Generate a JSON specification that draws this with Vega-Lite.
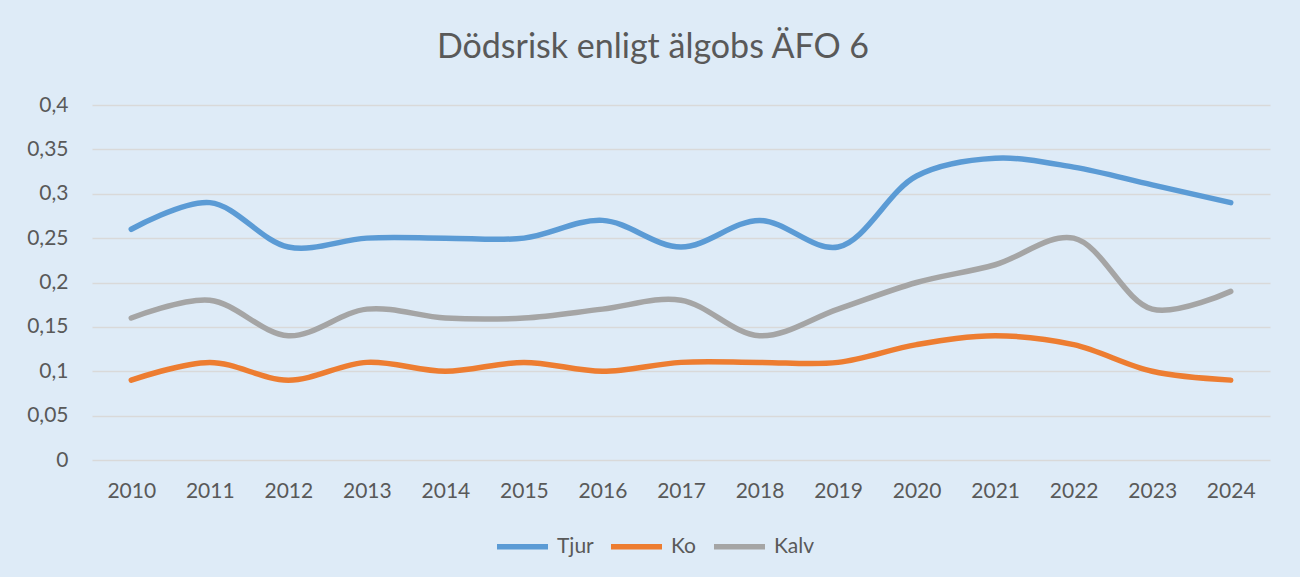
{
  "$schema": "https://vega.github.io/schema/vega-lite/v6.json",
  "width": 1178,
  "height": 355,
  "autosize": {"type": "none"},
  "padding": {"left": 92, "top": 105, "right": 30, "bottom": 117},
  "background": "#DEEBF7",
  "title": {
    "text": "Dödsrisk enligt älgobs ÄFO 6",
    "font": "Lato",
    "fontSize": 34,
    "fontWeight": "normal",
    "color": "#595959",
    "anchor": "middle",
    "dx": -28,
    "offset": 29
  },
  "data": {
    "values": [
      {"year": "2010", "serie": "Tjur", "v": 0.26},
      {"year": "2011", "serie": "Tjur", "v": 0.29},
      {"year": "2012", "serie": "Tjur", "v": 0.24},
      {"year": "2013", "serie": "Tjur", "v": 0.25},
      {"year": "2014", "serie": "Tjur", "v": 0.25},
      {"year": "2015", "serie": "Tjur", "v": 0.25},
      {"year": "2016", "serie": "Tjur", "v": 0.27},
      {"year": "2017", "serie": "Tjur", "v": 0.24},
      {"year": "2018", "serie": "Tjur", "v": 0.27},
      {"year": "2019", "serie": "Tjur", "v": 0.24},
      {"year": "2020", "serie": "Tjur", "v": 0.32},
      {"year": "2021", "serie": "Tjur", "v": 0.34},
      {"year": "2022", "serie": "Tjur", "v": 0.33},
      {"year": "2023", "serie": "Tjur", "v": 0.31},
      {"year": "2024", "serie": "Tjur", "v": 0.29},
      {"year": "2010", "serie": "Ko", "v": 0.09},
      {"year": "2011", "serie": "Ko", "v": 0.11},
      {"year": "2012", "serie": "Ko", "v": 0.09},
      {"year": "2013", "serie": "Ko", "v": 0.11},
      {"year": "2014", "serie": "Ko", "v": 0.10},
      {"year": "2015", "serie": "Ko", "v": 0.11},
      {"year": "2016", "serie": "Ko", "v": 0.10},
      {"year": "2017", "serie": "Ko", "v": 0.11},
      {"year": "2018", "serie": "Ko", "v": 0.11},
      {"year": "2019", "serie": "Ko", "v": 0.11},
      {"year": "2020", "serie": "Ko", "v": 0.13},
      {"year": "2021", "serie": "Ko", "v": 0.14},
      {"year": "2022", "serie": "Ko", "v": 0.13},
      {"year": "2023", "serie": "Ko", "v": 0.10},
      {"year": "2024", "serie": "Ko", "v": 0.09},
      {"year": "2010", "serie": "Kalv", "v": 0.16},
      {"year": "2011", "serie": "Kalv", "v": 0.18},
      {"year": "2012", "serie": "Kalv", "v": 0.14},
      {"year": "2013", "serie": "Kalv", "v": 0.17},
      {"year": "2014", "serie": "Kalv", "v": 0.16},
      {"year": "2015", "serie": "Kalv", "v": 0.16},
      {"year": "2016", "serie": "Kalv", "v": 0.17},
      {"year": "2017", "serie": "Kalv", "v": 0.18},
      {"year": "2018", "serie": "Kalv", "v": 0.14},
      {"year": "2019", "serie": "Kalv", "v": 0.17},
      {"year": "2020", "serie": "Kalv", "v": 0.20},
      {"year": "2021", "serie": "Kalv", "v": 0.22},
      {"year": "2022", "serie": "Kalv", "v": 0.25},
      {"year": "2023", "serie": "Kalv", "v": 0.17},
      {"year": "2024", "serie": "Kalv", "v": 0.19}
    ]
  },
  "mark": {"type": "line", "interpolate": "catmull-rom", "strokeWidth": 5.5, "strokeCap": "round", "strokeJoin": "round"},
  "encoding": {
    "x": {
      "field": "year",
      "type": "ordinal",
      "scale": {"type": "point", "padding": 0.5},
      "axis": {
        "title": null,
        "labelAngle": 0,
        "domain": false,
        "ticks": false,
        "grid": false,
        "labelFont": "Lato",
        "labelFontSize": 21,
        "labelColor": "#595959",
        "labelPadding": 20
      }
    },
    "y": {
      "field": "v",
      "type": "quantitative",
      "scale": {"domain": [0, 0.4], "nice": false},
      "axis": {
        "title": null,
        "values": [0, 0.05, 0.1, 0.15, 0.2, 0.25, 0.3, 0.35, 0.4],
        "labelExpr": "replace(format(datum.value, '~g'), '.', ',')",
        "domain": false,
        "ticks": false,
        "grid": true,
        "gridColor": "#D9D9D9",
        "gridWidth": 1.5,
        "labelFont": "Lato",
        "labelFontSize": 21,
        "labelColor": "#595959",
        "labelPadding": 24
      }
    },
    "color": {
      "field": "serie",
      "type": "nominal",
      "sort": ["Tjur", "Ko", "Kalv"],
      "scale": {"domain": ["Tjur", "Ko", "Kalv"], "range": ["#5B9BD5", "#ED7D31", "#A5A5A5"]},
      "legend": {
        "title": null,
        "orient": "none",
        "direction": "horizontal",
        "legendX": 402,
        "legendY": 413,
        "symbolType": "stroke",
        "symbolSize": 2601,
        "symbolStrokeWidth": 5.5,
        "labelFont": "Lato",
        "labelFontSize": 21,
        "labelColor": "#595959",
        "labelOffset": 6,
        "columnPadding": 6
      }
    }
  },
  "config": {
    "view": {"stroke": null}
  }
}
